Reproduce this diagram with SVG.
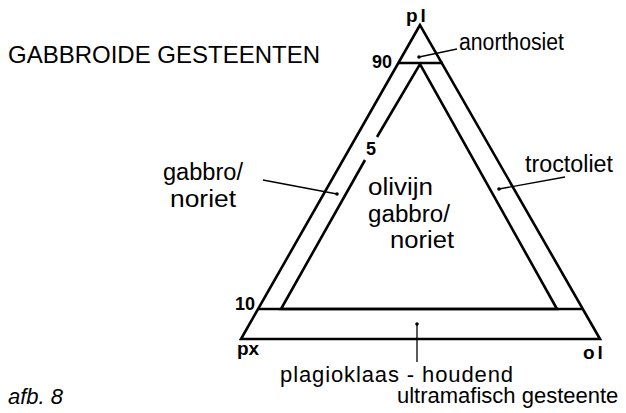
<svg xmlns="http://www.w3.org/2000/svg" width="626" height="413" viewBox="0 0 626 413">
<style>
text{font-family:"Liberation Sans",Arial,sans-serif;fill:#000}
.lbl{font-size:23px}
.bot{font-size:22px}
.num{font-size:18px;font-weight:bold}
.cor{font-size:19px;font-weight:bold}
.ln{stroke:#000;stroke-width:2.6;fill:none;stroke-linejoin:miter}
.ld{stroke:#000;stroke-width:1.3;fill:none}
</style>
<rect width="626" height="413" fill="#fff"/>
<g id="title"><text x="8" y="63" style="font-size:24px">GABBROIDE GESTEENTEN</text></g>
<g id="diagram">
<polygon class="ln" points="420,25 241,339 600,339"/>
<line class="ln" x1="398" y1="63" x2="443" y2="63"/>
<line class="ln" x1="258" y1="309" x2="582" y2="309"/>
<polyline class="ln" points="377,137 420,64 557,309 281,309 365,160"/>
</g>
<g id="corners">
<text x="406" y="22" class="cor" letter-spacing="3">pl</text>
<text x="237" y="355" class="cor">px</text>
<text x="583" y="359" class="cor" letter-spacing="3">ol</text>
<text x="372" y="68" class="num">90</text>
<text x="235" y="310" class="num">10</text>
<text x="366" y="155" class="num">5</text>
</g>
<g id="connectors">
<line class="ld" x1="457" y1="49" x2="419" y2="57"/><circle cx="419" cy="57" r="1.8"/>
<line class="ld" x1="263" y1="180" x2="337" y2="194"/><circle cx="337" cy="194" r="1.8"/>
<line class="ld" x1="565" y1="177" x2="499" y2="189"/><circle cx="499" cy="189" r="1.8"/>
<line class="ld" x1="417" y1="324" x2="417" y2="362"/><circle cx="417" cy="324" r="1.8"/>
</g>
<g id="anorthosiet"><text x="459" y="50" class="lbl" textLength="105" lengthAdjust="spacingAndGlyphs">anorthosiet</text></g>
<g id="gabbro"><text x="163" y="180" class="lbl" textLength="80" lengthAdjust="spacingAndGlyphs">gabbro/</text><text x="170" y="207" class="lbl" textLength="66" lengthAdjust="spacingAndGlyphs">noriet</text></g>
<g id="troctoliet"><text x="525" y="172" class="lbl" textLength="88" lengthAdjust="spacingAndGlyphs">troctoliet</text></g>
<g id="olivijn"><text x="368" y="195" class="lbl" textLength="65" lengthAdjust="spacingAndGlyphs">olivijn</text><text x="368" y="222" class="lbl" textLength="82" lengthAdjust="spacingAndGlyphs">gabbro/</text><text x="390" y="248" class="lbl" textLength="64" lengthAdjust="spacingAndGlyphs">noriet</text></g>
<g id="ultramafisch"><text x="280" y="382" class="bot" textLength="233" lengthAdjust="spacing">plagioklaas - houdend</text><text x="397" y="403" class="bot">ultramafisch gesteente</text></g>
<g id="caption"><text x="8" y="404" style="font-size:22px;font-style:italic">afb. 8</text></g>
</svg>
